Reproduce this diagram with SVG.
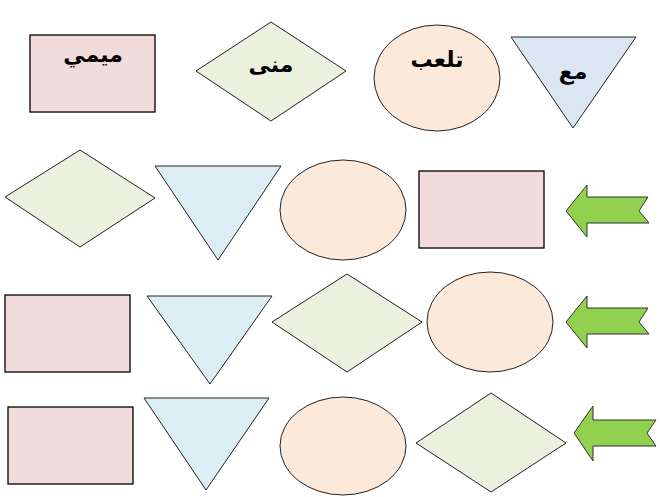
<svg xmlns="http://www.w3.org/2000/svg" width="660" height="497" viewBox="0 0 660 497">
<style>
.r{fill:#f2dcdb;stroke:#000;stroke-width:1.3}
.d{fill:#ebf1de;stroke:#222;stroke-width:1}
.e{fill:#fde9d9;stroke:#222;stroke-width:1}
.t{fill:#dbeef3;stroke:#222;stroke-width:1}
.tb{fill:#dce6f2;stroke:#222;stroke-width:1}
.a{fill:#92d050;stroke:#333;stroke-width:1}
.lb{font-family:"DejaVu Sans",sans-serif;font-weight:bold;font-size:22px;fill:#000;text-anchor:middle}
</style>
<rect width="660" height="497" fill="#fff"/>
<g id="row1">
<g id="n-mimi"><rect class="r" x="30" y="35" width="125" height="77"/><text class="lb" x="93" y="62" direction="rtl">ميمي</text></g>
<g id="n-mona"><polygon class="d" points="196,71 271,22 346,71 271,121"/><text class="lb" x="271" y="72" direction="rtl">منى</text></g>
<g id="n-tal"><ellipse class="e" cx="437" cy="78" rx="63" ry="53"/><text class="lb" x="437" y="67" direction="rtl">تلعب</text></g>
<g id="n-ma"><polygon class="tb" points="511,37 636,37 573,128"/><text class="lb" x="573" y="79" direction="rtl">مع</text></g>
</g>
<g id="row2">
<g id="r2-d"><polygon class="d" points="5,197 80,150 155,198 80,247"/></g>
<g id="r2-t"><polygon class="t" points="155,166 281,166 218,260"/></g>
<g id="r2-e"><ellipse class="e" cx="343" cy="210" rx="63" ry="50"/></g>
<g id="r2-r"><rect class="r" x="419" y="171" width="125" height="77"/></g>
<g id="r2-a"><polygon class="a" points="566,211 587,185 587,197 648,197 639,211 649,223 587,223 587,237"/></g>
</g>
<g id="row3">
<g id="r3-r"><rect class="r" x="5" y="295" width="125" height="77"/></g>
<g id="r3-t"><polygon class="t" points="147,296 272,296 210,384"/></g>
<g id="r3-d"><polygon class="d" points="272,322 347,274 422,322 347,372"/></g>
<g id="r3-e"><ellipse class="e" cx="490" cy="322" rx="63" ry="50"/></g>
<g id="r3-a"><polygon class="a" points="566,322 587,296 587,308 648,308 639,322 649,334 587,334 587,348"/></g>
</g>
<g id="row4">
<g id="r4-r"><rect class="r" x="8" y="407" width="125" height="77"/></g>
<g id="r4-t"><polygon class="t" points="144,398 269,398 206,490"/></g>
<g id="r4-e"><ellipse class="e" cx="343" cy="446" rx="63" ry="49"/></g>
<g id="r4-d"><polygon class="d" points="416,443 491,393 566,443 491,492"/></g>
<g id="r4-a"><polygon class="a" points="574,433 593,406 593,420 656,420 647,433 656,446 593,446 593,461"/></g>
</g>
<g id="connectors"></g>
</svg>
